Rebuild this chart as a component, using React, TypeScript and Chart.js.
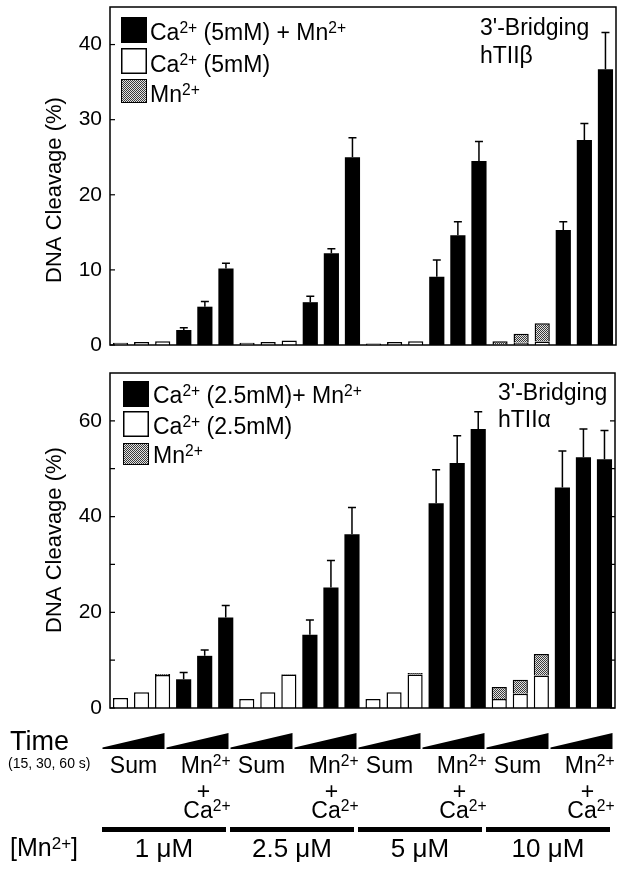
import React, { useEffect, useRef } from 'react';
import { Chart, registerables } from 'chart.js';

Chart.register(...registerables);

const FONT = '"Liberation Sans", Arial, Helvetica, sans-serif';

// ---------- categories ----------
const concentrations = ['1 μM', '2.5 μM', '5 μM', '10 μM'];
const conditions = ['Sum', 'Mn2+ + Ca2+'];
const timePoints = ['15 s', '30 s', '60 s'];

// ---------- Panel A: 3'-Bridging hTIIβ, Ca2+ 5 mM ----------
const betaCa = [0.3, 0.4, 0.5, 0.3, 0.4, 0.6, 0.2, 0.4, 0.5, 0.1, 0.3, 0.45];
const betaMn = [0, 0, 0, 0, 0, 0, 0, 0, 0, 0.4, 1.2, 2.45];
const betaBoth = [2.0, 5.1, 10.2, 5.7, 12.2, 25.0, 9.1, 14.6, 24.5, 15.3, 27.3, 36.7];
const betaBothErrTop = [2.3, 5.8, 10.9, 6.5, 12.8, 27.6, 11.3, 16.4, 27.1, 16.4, 29.5, 41.6];
const betaTicks = [0, 10, 20, 30, 40];
const betaTickLabels = [0, 10, 20, 30, 40];

// ---------- Panel B: 3'-Bridging hTIIα, Ca2+ 2.5 mM ----------
const alphaCa = [2.1, 3.3, 6.9, 1.9, 3.3, 7.0, 1.9, 3.3, 7.0, 1.9, 3.0, 6.8];
const alphaMn = [0, 0, 0.2, 0, 0, 0.1, 0, 0, 0.3, 2.5, 2.9, 4.5];
const alphaBoth = [6.0, 10.9, 18.9, 15.3, 25.2, 36.3, 42.8, 51.2, 58.3, 46.1, 52.4, 52.0];
const alphaBothErrTop = [7.4, 12.1, 21.4, 18.4, 30.8, 41.9, 49.8, 56.9, 61.9, 53.7, 58.3, 58.0];
const alphaTicks = [0, 10, 20, 30, 40, 50, 60];
const alphaTickLabels = [0, 20, 40, 60];

const categories: string[] = [];
concentrations.forEach((c) =>
  conditions.forEach((g) => timePoints.forEach((t) => categories.push(`${c} ${g} ${t}`)))
);

function spread(values: number[], condIndex: number): (number | null)[] {
  const out: (number | null)[] = [];
  concentrations.forEach((_, ci) =>
    conditions.forEach((_, gi) =>
      timePoints.forEach((_, ti) => {
        out.push(gi === condIndex ? values[ci * 3 + ti] : null);
      })
    )
  );
  return out;
}

type Seg = [string, boolean?];

function drawRich(ctx: CanvasRenderingContext2D, segs: Seg[], x: number, y: number, size: number, align: 'left' | 'right' | 'center' = 'left') {
  let w = 0;
  const parts = segs.map(([t, sup]) => {
    const fs = sup ? size * 0.68 : size;
    ctx.font = `${fs}px ${FONT}`;
    const m = ctx.measureText(t).width;
    w += m;
    return { t, sup, fs, m };
  });
  let cx = align === 'left' ? x : align === 'right' ? x - w : x - w / 2;
  ctx.textAlign = 'left';
  ctx.textBaseline = 'alphabetic';
  for (const p of parts) {
    ctx.font = `${p.fs}px ${FONT}`;
    ctx.fillText(p.t, cx, p.sup ? y - size * 0.3 : y);
    cx += p.m;
  }
}

const panels = [
  {
    key: 'beta',
    ca: betaCa,
    mn: betaMn,
    both: betaBoth,
    err: betaBothErrTop,
    yMax: 45,
    ticks: betaTicks,
    tickLabels: betaTickLabels,
    rightTicks: false,
    top: 0,
    height: 360,
    padding: { top: 7, bottom: 15, right: 10, left: 0 },
    legend: [
      { kind: 'both', segs: [['Ca'], ['2+', true], [' (5mM) + Mn'], ['2+', true]] as Seg[] },
      { kind: 'ca', segs: [['Ca'], ['2+', true], [' (5mM)']] as Seg[] },
      { kind: 'mn', segs: [['Mn'], ['2+', true]] as Seg[] },
    ],
    legendBox: { dx: 11, dy: [10, 41, 72], h: [26, 26, 24], w: 26 },
    legendText: { dx: 40, dy: [33, 65, 95] },
    tag: ["3'-Bridging", 'hTIIβ'],
    tagX: 480,
    tagY: [35, 63],
    titleY: 190,
    annotations: false,
  },
  {
    key: 'alpha',
    ca: alphaCa,
    mn: alphaMn,
    both: alphaBoth,
    err: alphaBothErrTop,
    yMax: 70,
    ticks: alphaTicks,
    tickLabels: alphaTickLabels,
    rightTicks: true,
    top: 360,
    height: 513,
    padding: { top: 13, bottom: 165, right: 11, left: 0 },
    legend: [
      { kind: 'both', segs: [['Ca'], ['2+', true], [' (2.5mM)+ Mn'], ['2+', true]] as Seg[] },
      { kind: 'ca', segs: [['Ca'], ['2+', true], [' (2.5mM)']] as Seg[] },
      { kind: 'mn', segs: [['Mn'], ['2+', true]] as Seg[] },
    ],
    legendBox: { dx: 13, dy: [8, 38, 70], h: [26, 26, 22], w: 26 },
    legendText: { dx: 43, dy: [30, 61, 90] },
    tag: ["3'-Bridging", 'hTIIα'],
    tagX: 498,
    tagY: [40, 67],
    titleY: 180,
    annotations: true,
  },
];

function makePattern(): CanvasPattern | string {
  const c = document.createElement('canvas');
  c.width = 2;
  c.height = 2;
  const g = c.getContext('2d');
  if (!g) return '#888';
  g.fillStyle = '#e2e2e2';
  g.fillRect(0, 0, 2, 2);
  g.fillStyle = '#3a3a3a';
  g.fillRect(0, 0, 1, 1);
  g.fillRect(1, 1, 1, 1);
  const p = g.createPattern(c, 'repeat');
  return p || '#888';
}

function makePlugin(cfg: any, pattern: any) {
  return {
    id: 'decor_' + cfg.key,
    afterDatasetsDraw(chart: any) {
      const ctx: CanvasRenderingContext2D = chart.ctx;
      const { left, right, top, bottom } = chart.chartArea;
      const y = chart.scales.y;
      ctx.save();
      ctx.strokeStyle = '#000';
      ctx.fillStyle = '#000';

      // error bars (upper only)
      const meta = chart.getDatasetMeta(2);
      const errs = spread(cfg.err, 1);
      ctx.lineWidth = 1.5;
      meta.data.forEach((el: any, i: number) => {
        const e = errs[i];
        if (e == null) return;
        const ye = y.getPixelForValue(e);
        ctx.beginPath();
        ctx.moveTo(el.x, el.y);
        ctx.lineTo(el.x, ye);
        ctx.moveTo(el.x - 4, ye);
        ctx.lineTo(el.x + 4, ye);
        ctx.stroke();
      });

      // frame
      ctx.lineWidth = 1.5;
      ctx.strokeRect(left, top, right - left, bottom - top);

      // inward ticks
      ctx.lineWidth = 1.2;
      cfg.ticks.forEach((v: number) => {
        const py = y.getPixelForValue(v);
        ctx.beginPath();
        ctx.moveTo(left, py);
        ctx.lineTo(left + 5, py);
        if (cfg.rightTicks) {
          ctx.moveTo(right, py);
          ctx.lineTo(right - 5, py);
        }
        ctx.stroke();
      });

      // y title
      ctx.save();
      ctx.translate(55, cfg.titleY);
      ctx.rotate(-Math.PI / 2);
      ctx.font = `22px ${FONT}`;
      ctx.textAlign = 'center';
      ctx.textBaseline = 'middle';
      ctx.fillText('DNA Cleavage (%)', 0, 0);
      ctx.restore();

      // legend
      cfg.legend.forEach((item: any, i: number) => {
        const bx = left + cfg.legendBox.dx;
        const by = top + cfg.legendBox.dy[i];
        const bw = cfg.legendBox.w;
        const bh = cfg.legendBox.h[i];
        if (item.kind === 'both') {
          ctx.fillStyle = '#000';
          ctx.fillRect(bx, by, bw, bh);
        } else if (item.kind === 'ca') {
          ctx.fillStyle = '#fff';
          ctx.fillRect(bx, by, bw, bh);
          ctx.lineWidth = 1.5;
          ctx.strokeRect(bx + 0.75, by + 0.75, bw - 1.5, bh - 1.5);
        } else {
          ctx.fillStyle = pattern;
          ctx.fillRect(bx, by, bw, bh);
          ctx.lineWidth = 1;
          ctx.strokeRect(bx + 0.5, by + 0.5, bw - 1, bh - 1);
        }
        ctx.fillStyle = '#000';
        drawRich(ctx, item.segs, left + cfg.legendText.dx, top + cfg.legendText.dy[i], 23);
      });

      // panel tag
      ctx.fillStyle = '#000';
      ctx.font = `23px ${FONT}`;
      ctx.textAlign = 'left';
      ctx.textBaseline = 'alphabetic';
      ctx.fillText(cfg.tag[0], cfg.tagX, cfg.tagY[0]);
      ctx.fillText(cfg.tag[1], cfg.tagX, cfg.tagY[1]);

      // bottom annotations
      if (cfg.annotations) {
        const off = cfg.top;
        const n = categories.length;
        const annLeft = left - 8;
        const annRight = right - 1;
        const unit = (annRight - annLeft) / n;
        const wedgeTop = 733 - off;
        const wedgeBottom = 749 - off;
        const nW = concentrations.length * conditions.length;
        for (let k = 0; k < nW; k++) {
          const x0 = annLeft + 3 * k * unit + 0.5;
          const x1 = annLeft + 3 * (k + 1) * unit - 1.5;
          ctx.beginPath();
          ctx.moveTo(x0, wedgeBottom);
          ctx.lineTo(x1, wedgeBottom);
          ctx.lineTo(x1, wedgeTop);
          ctx.lineTo(x0, wedgeBottom - 1.5);
          ctx.closePath();
          ctx.fill();
          if (k % 2 === 0) {
            drawRich(ctx, [['Sum']], (x0 + x1) / 2, 773 - off, 23, 'center');
          } else {
            drawRich(ctx, [['Mn'], ['2+', true]], x1 + 2, 773 - off, 23, 'right');
            drawRich(ctx, [['+']], x1 - 25, 799 - off, 23, 'center');
            drawRich(ctx, [['Ca'], ['2+', true]], x1 + 2, 818 - off, 23, 'right');
          }
        }
        concentrations.forEach((c, ci) => {
          const lx0 = annLeft + 6 * ci * unit;
          const lx1 = annLeft + 6 * (ci + 1) * unit - 4;
          ctx.fillRect(lx0, 827 - off, lx1 - lx0, 5);
          drawRich(ctx, [[c]], (lx0 + lx1) / 2, 857 - off, 26, 'center');
        });
        drawRich(ctx, [['Time']], 10, 750 - off, 27);
        drawRich(ctx, [['(15, 30, 60 s)']], 8, 768 - off, 14);
        drawRich(ctx, [['[Mn'], ['2+', true], [']']], 10, 856 - off, 25);
      }
      ctx.restore();
    },
  };
}

function Panel({ cfg }: { cfg: any }) {
  const ref = useRef<HTMLCanvasElement | null>(null);
  useEffect(() => {
    if (!ref.current) return;
    const pattern = makePattern();
    const chart = new Chart(ref.current, {
      type: 'bar',
      data: {
        labels: categories,
        datasets: [
          {
            label: 'Ca2+',
            data: spread(cfg.ca, 0),
            backgroundColor: '#ffffff',
            borderColor: '#000000',
            borderWidth: 1.5,
            stack: 's',
          },
          {
            label: 'Mn2+',
            data: spread(cfg.mn, 0),
            backgroundColor: pattern as any,
            borderColor: '#000000',
            borderWidth: 1.5,
            stack: 's',
          },
          {
            label: 'Ca2+ + Mn2+',
            data: spread(cfg.both, 1),
            backgroundColor: '#000000',
            borderColor: '#000000',
            borderWidth: 0,
            stack: 's',
          },
        ],
      },
      options: {
        responsive: false,
        animation: false,
        devicePixelRatio: 1,
        layout: { padding: cfg.padding },
        datasets: { bar: { barPercentage: 0.72, categoryPercentage: 1.0 } },
        plugins: { legend: { display: false }, tooltip: { enabled: false }, title: { display: false } },
        scales: {
          x: { type: 'category', stacked: true, display: false, grid: { display: false } },
          y: {
            type: 'linear',
            stacked: true,
            min: 0,
            max: cfg.yMax,
            grid: { display: false, drawTicks: false },
            border: { display: false },
            afterBuildTicks: (axis: any) => {
              axis.ticks = cfg.ticks.map((v: number) => ({ value: v }));
            },
            afterFit: (axis: any) => {
              axis.width = 110;
              axis.paddingTop = 0;
              axis.paddingBottom = 0;
            },
            ticks: {
              padding: 8,
              color: '#000',
              font: { family: FONT, size: 21 },
              callback: (v: any) => (cfg.tickLabels.includes(Number(v)) ? String(v) : ''),
            },
          },
        },
      },
      plugins: [makePlugin(cfg, pattern)],
    } as any);
    return () => chart.destroy();
  }, [cfg]);
  return (
    <canvas
      ref={ref}
      width={626}
      height={cfg.height}
      style={{ position: 'absolute', left: 0, top: cfg.top, width: 626, height: cfg.height, display: 'block' }}
    />
  );
}

export default function App() {
  return (
    <div style={{ position: 'absolute', left: 0, top: 0, width: 626, height: 873, background: '#fff' }}>
      {panels.map((p) => (
        <Panel key={p.key} cfg={p} />
      ))}
    </div>
  );
}
